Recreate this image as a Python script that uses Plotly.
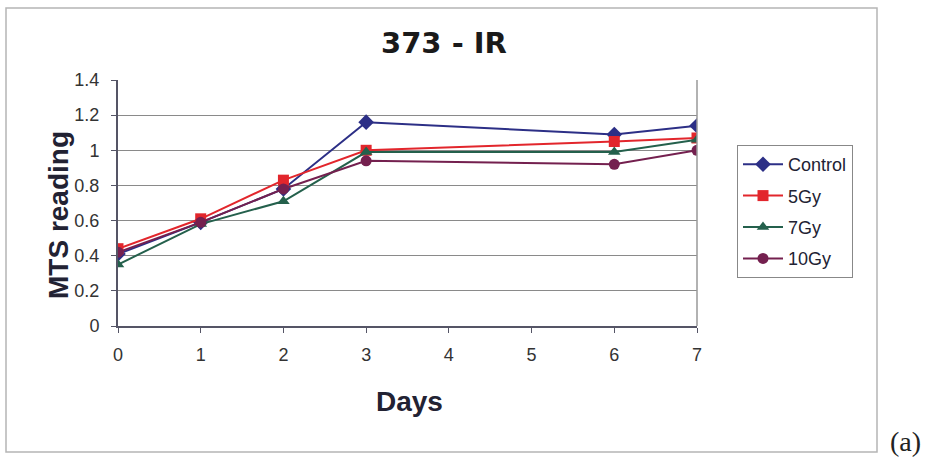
import plotly.graph_objects as go

# Absorbance readings over time for each radiation dose
days = [0, 1, 2, 3, 6, 7]
control = [0.41, 0.59, 0.78, 1.16, 1.09, 1.14]
gy5 = [0.44, 0.61, 0.83, 1.00, 1.05, 1.07]
gy7 = [0.35, 0.58, 0.71, 0.99, 0.99, 1.06]
gy10 = [0.42, 0.59, 0.78, 0.94, 0.92, 1.00]

x_ticks = [0, 1, 2, 3, 4, 5, 6, 7]
y_ticks = [0, 0.2, 0.4, 0.6, 0.8, 1.0, 1.2, 1.4]
y_tick_text = ["0", "0.2", "0.4", "0.6", "0.8", "1", "1.2", "1.4"]

W, H = 928, 467
L, R, T, B = 118, 231, 80, 141
pw, ph = W - L - R, H - T - B


def px(x):
    return (x - L) / pw


def py(y):
    return (H - B - y) / ph


series = [
    ("Control", control, "#2C2F86", "diamond", 12),
    ("5Gy", gy5, "#E2262C", "square", 11),
    ("7Gy", gy7, "#24604C", "triangle-up", 11),
    ("10Gy", gy10, "#74204F", "circle", 11),
]

fig = go.Figure()
for name, vals, color, sym, size in series:
    fig.add_trace(go.Scatter(
        x=days, y=vals, name=name, mode="lines+markers", legendgroup=name,
        line=dict(color=color, width=2),
        marker=dict(symbol=sym, size=size, color=color),
    ))

font_main = "Liberation Sans, Arial, sans-serif"


def label(text, x, y, font, angle=0):
    return dict(text=text, x=px(x), y=py(y), xref="paper", yref="paper",
                xanchor="center", yanchor="middle", showarrow=False,
                textangle=angle, font=font)


fig.update_layout(
    width=W, height=H,
    margin=dict(l=L, r=R, t=T, b=B),
    paper_bgcolor="white",
    plot_bgcolor="white",
    showlegend=True,
    legend=dict(
        x=px(737), y=py(145), xanchor="left", yanchor="top",
        bgcolor="white", bordercolor="#888888", borderwidth=1,
        font=dict(family=font_main, size=18, color="#222233"),
        tracegroupgap=5, itemwidth=40,
    ),
    annotations=[
        label("<b>373 - IR</b>", 444, 43,
              dict(family="DejaVu Sans, sans-serif", size=29, color="#1A1A1A")),
        label("<b>Days</b>", 409, 401,
              dict(family=font_main, size=28, color="#222233")),
        label("<b>MTS reading</b>", 58, 215,
              dict(family=font_main, size=28, color="#222233"), angle=-90),
        label("(a)", 905, 441,
              dict(family="Liberation Serif, Times New Roman, serif", size=28, color="#222222")),
    ],
    shapes=[
        dict(type="rect", xref="paper", yref="paper",
             x0=px(6), x1=px(877), y0=py(452), y1=py(8),
             line=dict(color="#B5B5B5", width=1.5), layer="below"),
        dict(type="line", xref="paper", yref="paper",
             x0=1, x1=1, y0=0, y1=1, line=dict(color="#999999", width=1.5)),
    ],
)

fig.update_xaxes(
    range=[0, 7], tickvals=x_ticks, showgrid=False, zeroline=False,
    showline=True, linecolor="#555566", linewidth=2,
    ticks="outside", ticklen=5, tickcolor="#555566", ticklabelstandoff=6,
    tickfont=dict(family=font_main, size=18, color="#333333"),
)
fig.update_yaxes(
    range=[0, 1.4], tickvals=y_ticks, ticktext=y_tick_text,
    showgrid=True, gridcolor="#8A8A8A", gridwidth=1, zeroline=False,
    showline=True, linecolor="#555566", linewidth=2,
    ticks="outside", ticklen=5, tickcolor="#555566", ticklabelstandoff=8,
    tickfont=dict(family=font_main, size=18, color="#333333"),
)

fig.write_html("out.html")
